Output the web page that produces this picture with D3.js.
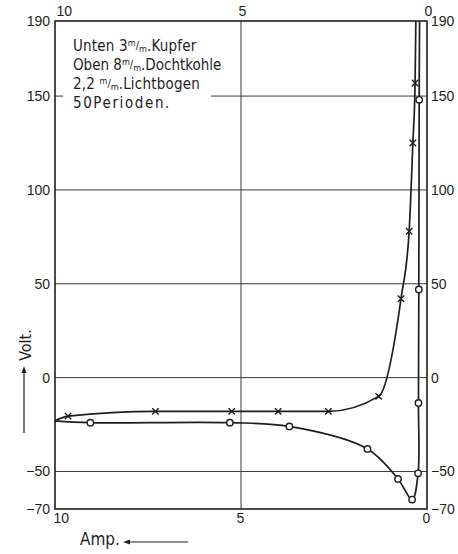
<!DOCTYPE html>
<html>
<head>
<meta charset="utf-8">
<script src="https://cdn.jsdelivr.net/npm/d3@7"></script>
<style>
  html, body { margin: 0; padding: 0; background: #fff; }
  svg { display: block; }
  text { font-family: "DejaVu Sans Condensed", "Liberation Sans", sans-serif; fill: #1e1e1e; }
  .tick text { font-family: "Liberation Sans", "DejaVu Sans Condensed", sans-serif; }
</style>
</head>
<body>
<svg id="chart" width="458" height="554"></svg>
<script>
// Current in amperes (axis runs from 10 down to 0), voltage in volts
const yTicks = [190, 150, 100, 50, 0, -50, -70];
const yGrid = [150, 100, 50, 0, -50];
const xTicks = [10, 5, 0];
const xGrid = [5];

// Curve marked with crosses
const crossLine = [
  [10, -23], [9.65, -20.5], [7.3, -18], [5.25, -18], [4.0, -18], [2.65, -18],
  [1.3, -10], [0.7, 42], [0.48, 78], [0.38, 125], [0.32, 157], [0.3, 190]
];
const crossMarks = [
  [9.65, -20.5], [7.3, -18], [5.25, -18], [4.0, -18], [2.65, -18],
  [1.3, -10], [0.7, 42], [0.48, 78], [0.38, 125], [0.32, 157]
];

// Curve marked with circles
const circleLine = [
  [10, -23], [9.05, -24], [5.3, -24], [3.7, -26], [1.6, -38], [0.78, -54],
  [0.4, -65], [0.24, -51], [0.23, -13.5], [0.22, 47], [0.21, 148], [0.2, 190]
];
const circleMarks = [
  [9.05, -24], [5.3, -24], [3.7, -26], [1.6, -38], [0.78, -54],
  [0.4, -65], [0.24, -51], [0.23, -13.5], [0.22, 47], [0.21, 148]
];

// Legend text: [before, mm-unit?, after, letter spacing]
const notes = [
  ["Unten 3", true, ".Kupfer", 0.2],
  ["Oben 8", true, ".Dochtkohle", 0],
  ["2,2 ", true, ".Lichtbogen", 0.2],
  ["50Perioden.", false, "", 1.6]
];

const svg = d3.select("#chart");
const mLeft = 55, mRight = 427, mTop = 21, mBottom = 509;

const x = d3.scaleLinear().domain([10, 0]).range([mLeft, mRight]);
const y = d3.scaleLinear().domain([-70, 190]).range([mBottom, mTop]);

const ink = "#1e1e1e";

// grid
const grid = svg.append("g").attr("stroke", "#3a3a3a").attr("stroke-width", 1);
grid.selectAll("line.h").data(yGrid).join("line").attr("class", "h")
  .attr("x1", mLeft).attr("x2", mRight)
  .attr("y1", d => y(d)).attr("y2", d => y(d));
grid.selectAll("line.v").data(xGrid).join("line").attr("class", "v")
  .attr("x1", d => x(d)).attr("x2", d => x(d))
  .attr("y1", mTop).attr("y2", mBottom);

// legend background clears the grid behind the text
svg.append("rect").attr("x", 63).attr("y", 34).attr("width", 148).attr("height", 80).attr("fill", "#fff");

// frame
svg.append("rect").attr("x", mLeft).attr("y", mTop)
  .attr("width", mRight - mLeft).attr("height", mBottom - mTop)
  .attr("fill", "none").attr("stroke", ink).attr("stroke-width", 1.6);

// axes built with d3
const fontSize = 14;
const axL = d3.axisLeft(y).tickValues(yTicks).tickSize(0).tickPadding(4).tickFormat(d3.format("d"));
const axR = d3.axisRight(y).tickValues(yTicks).tickSize(0).tickPadding(3).tickFormat(d3.format("d"));
const axT = d3.axisTop(x).tickValues(xTicks).tickSize(0).tickPadding(4);
const axB = d3.axisBottom(x).tickValues(xTicks).tickSize(0).tickPadding(4);

function style(g) {
  g.select(".domain").remove();
  g.attr("font-family", null);
  g.selectAll("text").attr("font-size", fontSize).attr("fill", ink);
}
svg.append("g").attr("transform", `translate(${mLeft - 1},0)`).call(axL).call(style);
svg.append("g").attr("transform", `translate(${mRight + 1},0)`).call(axR).call(style);
svg.append("g").attr("transform", `translate(0,${mTop - 1})`).call(axT).call(style)
  .selectAll(".tick text").attr("text-anchor", d => d === 10 ? "start" : "middle").attr("dx", 1);
svg.append("g").attr("transform", `translate(0,${mBottom})`).call(axB).call(style)
  .selectAll(".tick text").attr("text-anchor", d => d === 10 ? "start" : "middle").attr("dx", d => d === 10 ? -2 : -1);

// curves
const lineGen = d3.line().x(d => x(d[0])).y(d => y(d[1]));
svg.append("path").datum(crossLine)
  .attr("d", lineGen.curve(d3.curveMonotoneX))
  .attr("fill", "none").attr("stroke", ink).attr("stroke-width", 1.7);
svg.append("path").datum(circleLine)
  .attr("d", lineGen.curve(d3.curveCatmullRom.alpha(0.5)))
  .attr("fill", "none").attr("stroke", ink).attr("stroke-width", 1.7);

// markers
const cs = 3.2;
svg.append("g").selectAll("path").data(crossMarks).join("path")
  .attr("d", d => {
    const px = x(d[0]), py = y(d[1]);
    return `M${px - cs},${py - cs}L${px + cs},${py + cs}M${px - cs},${py + cs}L${px + cs},${py - cs}`;
  })
  .attr("stroke", ink).attr("stroke-width", 1.4).attr("fill", "none");
svg.append("g").selectAll("circle").data(circleMarks).join("circle")
  .attr("cx", d => x(d[0])).attr("cy", d => y(d[1])).attr("r", 3.2)
  .attr("fill", "#fff").attr("stroke", ink).attr("stroke-width", 1.4);

// legend
const baselines = [51, 70, 89, 108];
notes.forEach((n, i) => {
  const t = svg.append("text").attr("x", 73).attr("y", baselines[i])
    .attr("font-size", 15).attr("letter-spacing", n[3]);
  t.append("tspan").text(n[0]);
  if (n[1]) {
    t.append("tspan").attr("font-size", 9).attr("letter-spacing", 0).attr("dy", -5).text("m");
    t.append("tspan").attr("font-size", 11).attr("letter-spacing", 0).attr("dy", 3).text("/");
    t.append("tspan").attr("font-size", 9).attr("letter-spacing", 0).attr("dy", 3).text("m");
    t.append("tspan").attr("dy", -1).text(n[2]);
  }
});

// axis titles with arrows
const volt = svg.append("g").attr("transform", "translate(31,345) rotate(-90)");
volt.append("text").attr("text-anchor", "middle").attr("font-size", 16).text("Volt.");
svg.append("line").attr("x1", 24).attr("x2", 24).attr("y1", 433).attr("y2", 369)
  .attr("stroke", ink).attr("stroke-width", 1.2);
svg.append("path").attr("d", "M24,366L21.5,373L26.5,373Z").attr("fill", ink);

svg.append("text").attr("x", 80).attr("y", 545).attr("font-size", 17).text("Amp.");
svg.append("line").attr("x1", 188).attr("x2", 126).attr("y1", 542).attr("y2", 542)
  .attr("stroke", ink).attr("stroke-width", 1.2);
svg.append("path").attr("d", "M123,542L130,539.5L130,544.5Z").attr("fill", ink);
</script>
</body>
</html>
